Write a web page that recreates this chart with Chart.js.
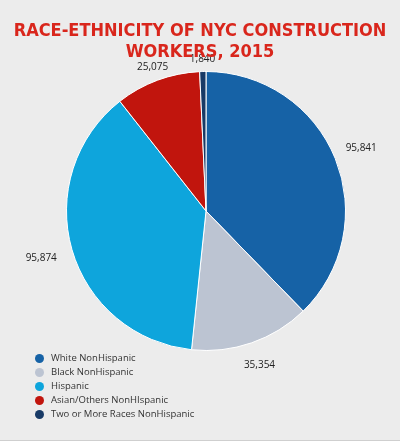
<!DOCTYPE html>
<html>
<head>
<meta charset="utf-8">
<script src="https://cdn.jsdelivr.net/npm/chart.js@4"></script>
<style>
  body { margin: 0; background: #fff; }
  #wrap { position: relative; width: 400px; height: 440px; background: #ececec; border-bottom: 1px solid #cfcfcf; }
  #title { position: absolute; top: 19px; left: 0; width: 400px; text-align: center;
           font-family: 'Liberation Sans Narrow', 'DejaVu Sans Condensed', sans-serif; font-stretch: condensed;
           font-size: 18px; font-weight: bold; color: #d9261c; }
  #legend { position: absolute; left: 35px; top: 351px; font-family: 'Open Sans', sans-serif; font-size: 9.5px; color: #333; }
  #legend div { height: 14px; line-height: 14px; display: flex; align-items: center; }
  #legend span { display: inline-block; width: 9px; height: 9px; border-radius: 50%; margin-right: 7px; }
  canvas { position: absolute; left: 0; top: 0; }
</style>
</head>
<body>
<div id="wrap">
  <canvas id="chartRace" width="400" height="440"></canvas>
  <div id="title">RACE-ETHNICITY OF NYC CONSTRUCTION WORKERS, 2015</div>
  <div id="legend"></div>
</div>
<script>
'use strict';

const categories = ['White NonHispanic', 'Black NonHispanic', 'Hispanic', 'Asian/Others NonHIspanic', 'Two or More Races NonHispanic'];
const workers = [95841, 35354, 95874, 25075, 1840];
const colors = ['#1662a6', '#bcc4d2', '#0ea5dc', '#c1150d', '#183a66'];
const labelOffset = [28, 24, 32, 14, 12];

// legend as plain html
document.getElementById('legend').innerHTML = categories
    .map((c, i) => `<div><span style="background:${colors[i]}"></span>${c}</div>`).join('');

// value labels outside the slices
const outsideLabels = {
    id: 'outsideLabels',
    afterDatasetsDraw(chart) {
        const ctx = chart.ctx;
        ctx.save();
        ctx.font = "10px 'Open Sans', sans-serif";
        ctx.fillStyle = '#222';
        ctx.textAlign = 'center';
        ctx.textBaseline = 'middle';
        chart.getDatasetMeta(0).data.forEach((arc, i) => {
            const mid = (arc.startAngle + arc.endAngle) / 2;
            const r = arc.outerRadius + labelOffset[i];
            ctx.fillText(workers[i].toLocaleString('en-US'), arc.x + Math.cos(mid) * r, arc.y + Math.sin(mid) * r);
        });
        ctx.restore();
    }
};

new Chart(document.getElementById('chartRace'), {
    type: 'pie',
    data: {
        labels: categories,
        datasets: [{
            data: workers,
            backgroundColor: colors,
            borderColor: '#ffffff',
            borderWidth: 1,
        }],
    },
    options: {
        responsive: false,
        animation: false,
        layout: { padding: { top: 71, bottom: 89, left: 66, right: 54 } },
        plugins: { legend: { display: false }, tooltip: { enabled: false } },
    },
    plugins: [outsideLabels],
});
</script>
</body>
</html>
